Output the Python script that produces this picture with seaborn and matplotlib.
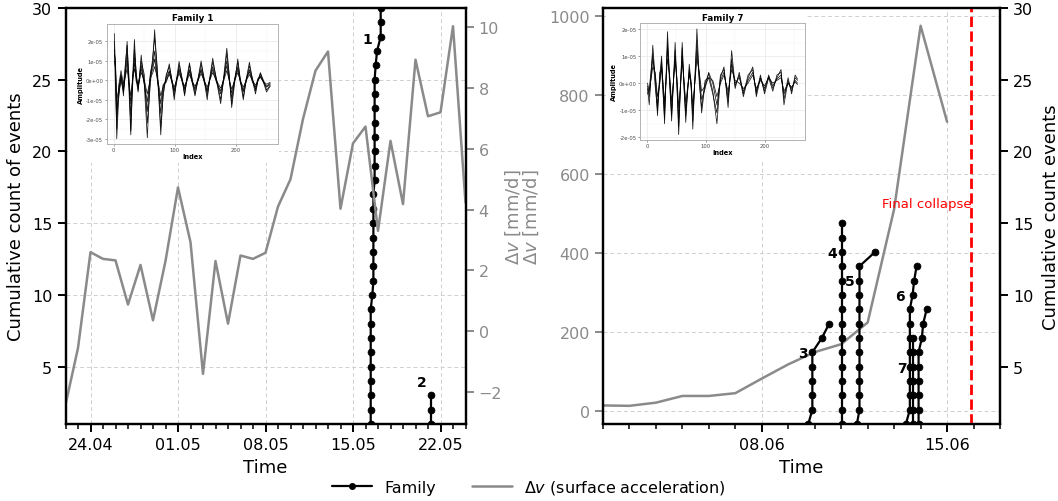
import pandas as pd
import matplotlib
matplotlib.use("Agg")
import matplotlib.pyplot as plt
import matplotlib.dates as mdates
from matplotlib.lines import Line2D
from matplotlib.patches import Rectangle
import seaborn as sns

# ---------------- data ----------------
# surface acceleration, daily values
dv_left_start = "2023-04-22"
dv_left = [-2.42, -0.55, 2.6, 2.38, 2.33, 0.88, 2.18, 0.36, 2.31, 4.73, 2.93, -1.4,
           2.31, 0.25, 2.49, 2.38, 2.58, 4.1, 5.0, 6.98, 8.57, 9.2, 4.03, 6.18,
           6.73, 3.3, 6.26, 4.18, 8.93, 7.07, 7.2, 10.03, 4.23]
dv_right_start = "2023-06-02"
dv_right = [14, 13, 21, 38, 38, 45, 82, 118, 149, 169, 224, 511, 975, 732]

# event times of each family (cumulative count = order of events)
fam1 = (["2023-05-16 10:00"] * 9 + ["2023-05-16 13:10"] + ["2023-05-16 15:10"] * 7
        + ["2023-05-16 17:30"] * 8 + ["2023-05-16 19:30", "2023-05-16 22:10"]
        + ["2023-05-17 05:10"] * 4)
fam2 = ["2023-05-21 06:30"] * 3
fam3 = (["2023-06-09 18:10"] + ["2023-06-09 21:50"] * 5
        + ["2023-06-10 06:30", "2023-06-10 13:10"])
fam4 = ["2023-06-11 00:40"] * 15
fam5 = ["2023-06-11 14:15"] + ["2023-06-11 16:35"] * 11 + ["2023-06-12 06:50"]
fam6 = (["2023-06-13 10:40"] + ["2023-06-13 14:15"] * 8
        + ["2023-06-13 16:45", "2023-06-13 18:10", "2023-06-13 20:20"])
fam7 = ["2023-06-13 16:45"] * 7
fam8 = (["2023-06-13 22:10"] * 6
        + ["2023-06-14 01:10", "2023-06-14 02:20", "2023-06-14 05:30"])

left_families = [fam1, fam2]
right_families = [fam3, fam4, fam5, fam6, fam7, fam8]

# family number labels
left_lab_names = ["1", "2"]
left_lab_times = ["2023-05-16 03:40", "2023-05-20 12:30"]
left_lab_counts = [27.85, 3.9]
right_lab_names = ["3", "4", "5", "6", "7"]
right_lab_times = ["2023-06-09 13:00", "2023-06-10 16:20", "2023-06-11 07:30",
                   "2023-06-13 05:30", "2023-06-13 07:00"]
right_lab_counts = [5.92, 12.92, 10.95, 9.93, 4.93]

collapse_time = "2023-06-15 22:00"

left_ticks = ["2023-04-24", "2023-05-01", "2023-05-08", "2023-05-15", "2023-05-22"]
right_ticks = ["2023-06-08", "2023-06-15"]

# waveform insets (amplitude in 1e-05)
wf1_index = [1, 3, 5, 8, 12, 16, 19, 22, 25, 28, 31, 34, 37, 40, 45, 50, 55, 60, 64, 67,
             71, 74, 77, 81, 86, 91, 95, 99, 103, 107, 112, 116, 120, 124, 129, 133,
             138, 143, 148, 153, 157, 162, 168, 175, 180, 185, 189, 193, 198, 203, 207,
             212, 217, 222, 227, 232, 236, 240, 245, 250, 256]
wf1_a = [2.4, 0.5, -3.0, -1.0, 0.3, -0.8, 0.6, 2.0, -0.5, -2.8, 0.2, 2.1, 0.0, -0.6, 1.3,
         -0.2, -2.95, 0.4, 1.0, 2.6, 0.5, -1.0, -2.8, -0.6, 0.2, 0.85, 0.0, -1.0, 0.1, 0.97,
         0.0, -0.8, 0.2, 0.9, -0.2, -0.8, 0.1, 1.0, 0.0, -1.0, 0.1, 1.14, 0.0, -1.2, 0.2,
         1.65, 0.3, -1.4, -0.1, 1.1, 0.0, -1.0, 0.1, 0.93, 0.0, -0.7, 0.0, 0.4, -0.1, -0.6, -0.3]
wf1_b = [1.6, 0.8, -2.0, -0.6, 0.2, -0.5, 0.4, 1.4, -0.3, -1.8, 0.1, 1.2, 0.2, -0.4, 0.8,
         -0.1, -1.6, 0.3, 0.8, 1.5, 0.3, -0.6, -1.7, -0.4, 0.1, 0.5, 0.0, -0.6, 0.0, 0.6,
         0.0, -0.5, 0.1, 0.55, -0.1, -0.5, 0.0, 0.6, 0.0, -0.6, 0.0, 0.7, 0.0, -0.7, 0.1,
         1.0, 0.1, -0.9, 0.0, 0.7, 0.0, -0.6, 0.0, 0.55, 0.0, -0.45, 0.0, 0.25, -0.1, -0.35, -0.2]
wf1_c = [1.0, 0.6, -1.0, -0.5, 0.3, -0.4, 0.2, 0.6, -0.2, -0.8, 0.0, 0.6, 0.1, -0.3, 0.4,
         0.0, -0.7, 0.1, 0.4, 0.7, 0.2, -0.3, -0.8, -0.3, 0.0, 0.3, 0.0, -0.35, 0.0, 0.35,
         0.0, -0.3, 0.0, 0.3, -0.1, -0.3, 0.0, 0.35, 0.0, -0.35, 0.0, 0.4, 0.0, -0.4, 0.0,
         0.5, 0.0, -0.45, 0.0, 0.4, 0.0, -0.35, 0.0, 0.3, 0.0, -0.25, 0.0, 0.15, -0.05, -0.2, -0.1]
wf1_d = [2.0, -0.5, -2.5, -0.3, 0.5, -0.2, 0.8, 1.8, 0.2, -2.6, -0.3, 1.6, 0.4, -0.5, 1.0,
         0.3, -2.2, -0.2, 1.3, 2.2, 0.8, -0.8, -2.4, -0.8, 0.3, 0.7, 0.1, -0.8, -0.1, 0.8,
         0.1, -0.7, 0.0, 0.8, 0.0, -0.7, 0.0, 0.85, 0.1, -0.8, 0.0, 0.95, 0.1, -1.0, 0.0,
         1.4, 0.2, -1.2, 0.1, 0.95, 0.1, -0.85, 0.0, 0.75, 0.1, -0.55, 0.0, 0.35, 0.0, -0.5, -0.25]
wf1_e = [1.3, 1.0, -1.5, -0.8, 0.0, -0.6, 0.3, 1.0, 0.0, -1.2, 0.2, 0.9, -0.1, -0.2, 0.6,
         -0.2, -1.1, 0.2, 0.6, 1.1, 0.1, -0.5, -1.2, -0.2, -0.1, 0.45, -0.1, -0.5, 0.1, 0.5,
         -0.1, -0.4, 0.1, 0.45, -0.2, -0.4, 0.1, 0.5, -0.1, -0.5, 0.1, 0.55, -0.1, -0.55, 0.1,
         0.75, 0.0, -0.65, 0.1, 0.55, -0.1, -0.5, 0.1, 0.45, -0.1, -0.35, 0.1, 0.2, -0.1, -0.3, -0.15]

wf7_index = [1, 4, 10, 14, 18, 22, 25, 30, 35, 39, 42, 48, 51, 54, 60, 63, 66, 72, 75, 78,
             85, 89, 93, 99, 105, 112, 119, 125, 131, 138, 144, 150, 157, 164, 172, 180,
             186, 193, 200, 207, 214, 221, 228, 233, 240, 246, 252, 256]
wf7_a = [-0.2, -0.8, 1.4, 0.2, -1.2, 0.3, 1.0, -1.5, 1.9, 0.0, -1.4, 1.5, 0.0, -1.9, 1.5,
         0.0, -1.45, 0.7, 0.0, -1.7, 2.0, 0.2, -1.1, 0.0, 0.35, -0.3, -1.5, 0.2, 0.6, -0.9,
         1.2, -0.1, 0.3, -0.5, 0.2, 0.6, -0.5, 0.2, -0.3, 0.3, -0.2, 0.2, 0.5, -0.8, 0.1,
         -0.3, 0.2, 0.1]
wf7_b = [-0.1, -0.5, 0.9, 0.3, -0.8, 0.1, 0.8, -1.0, 1.3, 0.1, -1.0, 1.0, 0.1, -1.3, 1.0,
         0.1, -1.0, 0.4, -0.1, -1.1, 1.2, 0.3, -0.6, -0.2, 0.4, 0.0, -0.8, 0.1, 0.4, -0.5,
         0.7, 0.0, 0.2, -0.3, 0.1, 0.4, -0.3, 0.2, -0.2, 0.25, -0.1, 0.15, 0.3, -0.4, 0.0,
         -0.2, 0.1, 0.0]
wf7_c = [0.0, -0.3, 0.6, 0.4, -0.5, 0.0, 0.6, -0.7, 0.9, 0.2, -0.7, 0.8, 0.2, -0.9, 0.8,
         0.1, -0.7, 0.3, 0.0, -0.8, 0.9, 0.4, -0.3, -0.1, 0.2, 0.1, -0.5, 0.0, 0.3, -0.3,
         0.5, 0.1, 0.0, -0.2, 0.0, 0.3, -0.2, 0.1, -0.1, 0.2, 0.0, 0.1, 0.2, -0.3, 0.0,
         -0.15, 0.05, -0.05]
wf7_d = [-0.4, -0.2, 1.1, -0.1, -1.0, 0.4, 0.5, -1.3, 1.5, -0.2, -1.2, 1.2, -0.1, -1.6, 1.3,
         -0.2, -1.2, 0.5, 0.1, -1.4, 1.6, 0.0, -0.9, 0.1, 0.2, -0.4, -1.1, 0.3, 0.5, -0.7,
         0.9, -0.2, 0.4, -0.4, 0.3, 0.5, -0.4, 0.3, -0.4, 0.2, -0.3, 0.3, 0.4, -0.6, 0.2,
         -0.4, 0.3, 0.15]

wf1_yticks = [-3, -2, -1, 0, 1, 2]
wf1_ylabels = ["-3e-05", "-2e-05", "-1e-05", "0e+00", "1e-05", "2e-05"]
wf7_yticks = [-2, -1, 0, 1, 2]
wf7_ylabels = ["-2e-05", "-1e-05", "0e+00", "1e-05", "2e-05"]

# ---------------- style ----------------
sns.set_theme(style="ticks", rc={"axes.edgecolor": "black", "axes.linewidth": 1.6,
                                 "xtick.color": "black", "ytick.color": "black",
                                 "text.color": "black", "axes.labelcolor": "black"})
GRAY = "#8a8a8a"
W, H = 1058, 502


def px_rect(x0, y0, x1, y1):
    return [x0 / W, 1 - y1 / H, (x1 - x0) / W, (y1 - y0) / H]


def plot_families(ax, families):
    for fam in families:
        t = pd.to_datetime(fam)
        counts = list(range(1, len(fam) + 1))
        sns.lineplot(x=t, y=counts, ax=ax, color="black", lw=1.6, marker="o",
                     markersize=5, markeredgecolor="black", markeredgewidth=0.5,
                     estimator=None, sort=False, clip_on=True)


def style_main(ax, twin):
    for a in (ax, twin):
        for s in a.spines.values():
            s.set_linewidth(1.6)
            s.set_color("black")
        a.tick_params(which="major", length=6, width=1.4, labelsize=11.5)
        a.tick_params(which="minor", length=3.5, width=1.1)
    ax.xaxis.set_minor_locator(mdates.DayLocator())
    ax.xaxis.set_major_formatter(mdates.DateFormatter("%d.%m"))
    twin.grid(False)


def draw_inset(box, cover, index, traces, ylim, yticks, ylabels, title):
    fig.add_artist(Rectangle((cover[0] / W, 1 - cover[3] / H),
                             (cover[2] - cover[0]) / W, (cover[3] - cover[1]) / H,
                             transform=fig.transFigure, facecolor="white",
                             edgecolor="none", zorder=1))
    ax = fig.add_axes(px_rect(*box), zorder=2)
    df = pd.concat([pd.DataFrame({"Index": index, "Amplitude": tr, "trace": k})
                    for k, tr in enumerate(traces)])
    sns.lineplot(data=df, x="Index", y="Amplitude", units="trace", estimator=None,
                 color="black", lw=0.55, alpha=0.9, ax=ax)
    ax.set_facecolor("white")
    ax.set_axisbelow(True)
    for s in ax.spines.values():
        s.set_color("#b3b3b3")
        s.set_linewidth(0.7)
    ax.set_xlim(-11.75, 268.75)
    ax.set_ylim(*ylim)
    ax.set_xticks([0, 100, 200])
    ax.set_xticks([50, 150, 250], minor=True)
    ax.set_yticks(yticks)
    ax.set_yticklabels(ylabels)
    ax.set_yticks([v + 0.5 for v in yticks[:-1]], minor=True)
    ax.grid(which="major", color="#ebebeb", lw=0.6)
    ax.grid(which="minor", color="#f4f4f4", lw=0.35)
    ax.tick_params(which="major", labelsize=3.8, colors="#4d4d4d", length=1.5,
                   width=0.4, pad=1)
    ax.tick_params(which="minor", length=0)
    ax.set_xlabel("Index", fontsize=4.8, fontweight="bold", labelpad=0.5)
    ax.set_ylabel("Amplitude", fontsize=4.8, fontweight="bold", labelpad=1)
    ax.set_title(title, fontsize=6.3, fontweight="bold", pad=2.5)


fig = plt.figure(figsize=(W / 100, H / 100), dpi=100)

# ---------------- left panel ----------------
axL = fig.add_axes(px_rect(65.5, 9, 465.5, 425))
axL2 = axL.twinx()
plot_families(axL, left_families)
sns.lineplot(x=pd.date_range(dv_left_start, periods=len(dv_left), freq="D"), y=dv_left,
             ax=axL2, color=GRAY, lw=1.8)
for name, t, c in zip(left_lab_names, left_lab_times, left_lab_counts):
    axL.text(pd.Timestamp(t), c, name, fontsize=10, fontweight="bold",
             ha="center", va="center")
style_main(axL, axL2)
axL.set_xlim(pd.Timestamp("2023-04-22"), pd.Timestamp("2023-05-24"))
axL.set_xticks(pd.to_datetime(left_ticks))
axL.set_ylim(1, 30)
axL.set_yticks([5, 10, 15, 20, 25, 30])
axL2.set_ylim(-3.05, 10.63)
axL2.set_yticks([-2, 0, 2, 4, 6, 8, 10])
axL2.tick_params(axis="y", colors=GRAY)
axL.grid(True, which="major", ls=(0, (4, 3)), color="#cfcfcf", lw=0.7)
axL.set_xlabel("Time", fontsize=13)
axL.set_ylabel("Cumulative count of events", fontsize=13, labelpad=5)
axL2.set_ylabel(r"$\Delta v$ [mm/d]", fontsize=13, color=GRAY)
axL2.yaxis.set_label_coords(1.095, 0.5)

# ---------------- right panel ----------------
axR = fig.add_axes(px_rect(603, 9, 1000, 425))
axR2 = axR.twinx()
sns.lineplot(x=pd.date_range(dv_right_start, periods=len(dv_right), freq="D"), y=dv_right,
             ax=axR, color=GRAY, lw=1.8)
plot_families(axR2, right_families)
for name, t, c in zip(right_lab_names, right_lab_times, right_lab_counts):
    axR2.text(pd.Timestamp(t), c, name, fontsize=10, fontweight="bold",
              ha="center", va="center")
axR2.axvline(pd.Timestamp(collapse_time), color="red", ls="--", lw=2)
axR2.text(pd.Timestamp(collapse_time), 16.4, "Final collapse", color="red",
          fontsize=9.5, ha="right", va="center")
style_main(axR, axR2)
axR.set_xlim(pd.Timestamp("2023-06-02"), pd.Timestamp("2023-06-17"))
axR.set_xticks(pd.to_datetime(right_ticks))
axR.set_ylim(-33, 1020)
axR.set_yticks([0, 200, 400, 600, 800, 1000])
axR.tick_params(axis="y", colors=GRAY)
axR2.set_ylim(1, 30)
axR2.set_yticks([5, 10, 15, 20, 25, 30])
axR.grid(True, which="major", ls=(0, (4, 3)), color="#cfcfcf", lw=0.7)
axR.set_xlabel("Time", fontsize=13)
axR.set_ylabel(r"$\Delta v$ [mm/d]", fontsize=13, color=GRAY)
axR.yaxis.set_label_coords(-0.155, 0.5)
axR2.set_ylabel("Cumulative count events", fontsize=13, labelpad=6)

# ---------------- waveform insets ----------------
draw_inset((106.5, 24.5, 278, 145), (68, 11, 279, 164), wf1_index,
           [wf1_a, wf1_b, wf1_c, wf1_d, wf1_e], (-3.27, 2.92), wf1_yticks, wf1_ylabels,
           "Family 1")
draw_inset((640, 24, 805, 141), (605.5, 11, 807, 161), wf7_index,
           [wf7_a, wf7_b, wf7_c, wf7_d], (-2.1, 2.22), wf7_yticks, wf7_ylabels,
           "Family 7")

# ---------------- legend ----------------
handles = [Line2D([], [], color="black", lw=1.6, marker="o", markersize=4),
           Line2D([], [], color=GRAY, lw=1.8)]
fig.legend(handles, ["Family", r"$\Delta v$ (surface acceleration)"], loc="center",
           bbox_to_anchor=(0.5, 0.027), ncol=2, frameon=False, fontsize=11.5,
           handlelength=2.5, columnspacing=2.2)

fig.savefig("out.png", dpi=100)
